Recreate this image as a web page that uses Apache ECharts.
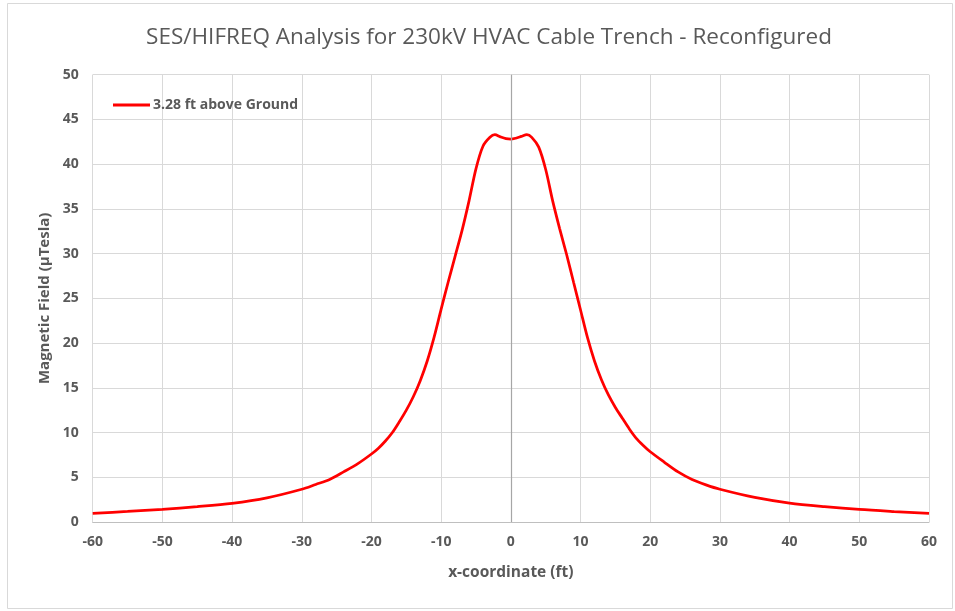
<!DOCTYPE html>
<html>
<head>
<meta charset="utf-8">
<script src="https://cdn.jsdelivr.net/npm/echarts@6/dist/echarts.min.js"></script>
<style>html,body{margin:0;padding:0;background:#fff;}#c{width:955px;height:611px;}</style>
</head>
<body>
<div id="c"></div>
<script>
const titleText = "SES/HIFREQ Analysis for 230kV HVAC Cable Trench - Reconfigured";
const seriesName = "3.28 ft above Ground";
const xName = "x-coordinate (ft)";
const yName = "Magnetic Field (\u00b5Tesla)";
const xPos = [-60,-55,-50,-45,-40,-35,-30,-28,-26,-24,-22,-20,-19,-18,-17,-16,-15,-14,-13,-12,-11,-10,-9,-8,-7,-6,-5,-4,-3,-2.3,-1.5,-0.7,0,0.7,1.5,2.3,3,4,5,6,7,8,9,10,11,12,13,14,15,16,17,18,19,20,22,24,26,28,30,35,40,45,50,55,60];
const field = [0.97,1.18,1.42,1.72,2.09,2.7,3.66,4.2,4.75,5.6,6.5,7.6,8.25,9.05,10.0,11.2,12.5,14.0,15.8,18.0,20.7,23.8,26.8,29.7,32.6,35.9,39.5,42.0,43.0,43.3,43.05,42.85,42.8,42.9,43.1,43.3,43.0,41.9,39.4,35.9,32.8,29.9,26.8,23.7,20.6,18.0,15.9,14.2,12.8,11.6,10.4,9.35,8.55,7.85,6.7,5.6,4.75,4.15,3.66,2.75,2.12,1.72,1.40,1.17,0.97];
const xTicks = {min:-60, max:60, interval:10};
const yTicks = {min:0, max:50, interval:5};

const data = xPos.map((x,i)=>[x, field[i]]);
const chart = echarts.init(document.getElementById('c'));
const gray = '#595959';
chart.setOption({
  animation:false,
  backgroundColor:'#fff',
  textStyle:{fontFamily:'Open Sans'},
  title:{text:titleText,left:484, textAlign:'center', top:21,
    textStyle:{fontFamily:'Open Sans',fontSize:22.5,fontWeight:'normal',color:gray}},
  graphic:[{type:'rect',shape:{x:7.5,y:3.5,width:945,height:605},style:{fill:null,stroke:'#d9d9d9',lineWidth:1},silent:true}],
  legend:{left:108,top:93,itemWidth:37,itemHeight:3,itemGap:4,
    icon:'rect',
    textStyle:{fontFamily:'Open Sans',fontSize:14,fontWeight:'bold',color:gray,padding:[0,0,0,-2]},
    data:[{name:seriesName,icon:'rect'}]},
  grid:{left:92.7,right:26,top:74.7,bottom:89,containLabel:false},
  xAxis:{type:'value',min:xTicks.min,max:xTicks.max,interval:xTicks.interval,
    name:xName,nameLocation:'middle',nameGap:43,
    nameTextStyle:{fontFamily:'Open Sans',fontSize:15.5,fontWeight:'bold',color:gray},
    axisLine:{show:true,lineStyle:{color:'#bfbfbf',width:1}},
    axisTick:{show:false},
    axisLabel:{fontFamily:'Open Sans',fontSize:14,fontWeight:'bold',color:gray,margin:13},
    splitLine:{show:true,lineStyle:{color:'#d9d9d9',width:1}}},
  yAxis:{type:'value',min:yTicks.min,max:yTicks.max,interval:yTicks.interval,
    name:yName,nameLocation:'middle',nameGap:40,nameRotate:90,
    nameTextStyle:{fontFamily:'Open Sans',fontSize:15,fontWeight:'bold',color:gray},
    axisLine:{show:false},axisTick:{show:false},
    axisLabel:{fontFamily:'Open Sans',fontSize:14,fontWeight:'bold',color:gray,margin:14},
    splitLine:{show:true,lineStyle:{color:'#d9d9d9',width:1}}},
  series:[{name:seriesName,type:'line',data:data,smooth:0.3,showSymbol:false,symbol:'none',
    lineStyle:{color:'#ff0000',width:2.75},itemStyle:{color:'#ff0000'},
    markLine:{silent:true,symbol:'none',label:{show:false},
      lineStyle:{color:'#a6a6a6',type:'solid',width:1.2},
      data:[{xAxis:0}]},
    z:3}]
});
</script>
</body>
</html>
